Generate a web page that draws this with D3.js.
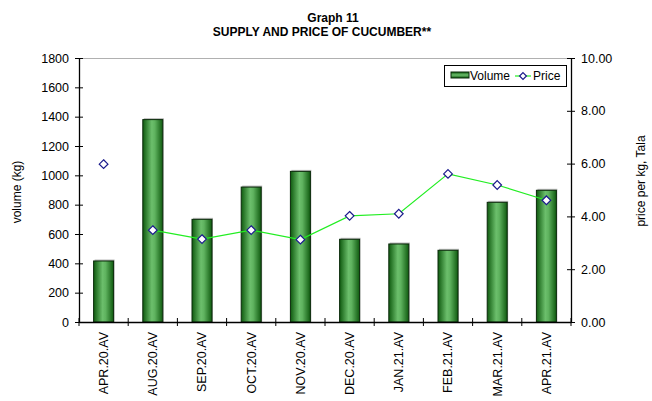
<!DOCTYPE html>
<html><head><meta charset="utf-8">
<script src="https://cdn.jsdelivr.net/npm/d3@7"></script>
<style>body{margin:0;background:#fff;}text{font-family:"Liberation Sans",Arial,sans-serif;}</style>
</head><body><svg id="c" width="652" height="401"></svg>
<script>
const categories = ["APR.20.AV","AUG.20.AV","SEP.20.AV","OCT.20.AV","NOV.20.AV","DEC.20.AV","JAN.21.AV","FEB.21.AV","MAR.21.AV","APR.21.AV"];
const volume = [416, 1380, 700, 920, 1027, 564, 532, 489, 816, 898];
const price = [5.98, 3.48, 3.14, 3.48, 3.12, 4.02, 4.10, 5.61, 5.19, 4.61];
const volumeTicks = [0,200,400,600,800,1000,1200,1400,1600,1800];
const priceTicks = [0,2,4,6,8,10];

const svg = d3.select("#c");
const m = {l:79, r:571, t:58, b:322};
const x = d3.scaleBand().domain(categories).range([m.l, m.r]);
const yL = d3.scaleLinear().domain([0,1800]).range([m.b, m.t]);
const yR = d3.scaleLinear().domain([0,10]).range([m.b, m.t]);

const defs = svg.append("defs");
const g = defs.append("linearGradient").attr("id","bar").attr("x1","0").attr("x2","1").attr("y1","0").attr("y2","0");
g.append("stop").attr("offset","0").attr("stop-color","#0f5a0f");
g.append("stop").attr("offset","0.45").attr("stop-color","#6cbf6c");
g.append("stop").attr("offset","0.6").attr("stop-color","#5fb35f");
g.append("stop").attr("offset","1").attr("stop-color","#0f5a0f");
const lg = defs.append("linearGradient").attr("id","leg").attr("x1","0").attr("x2","0").attr("y1","0").attr("y2","1");
lg.append("stop").attr("offset","0").attr("stop-color","#0f5a0f");
lg.append("stop").attr("offset","0.5").attr("stop-color","#6cbf6c");
lg.append("stop").attr("offset","1").attr("stop-color","#0f5a0f");

// top border
svg.append("line").attr("x1",m.l).attr("x2",m.r).attr("y1",m.t+0.5).attr("y2",m.t+0.5).attr("stroke","#b0b0b0").attr("stroke-width",1);

// title
svg.append("text").attr("x",333).attr("y",22).attr("text-anchor","middle").attr("font-size",12).attr("font-weight","bold").text("Graph 11");
svg.append("text").attr("x",322).attr("y",36).attr("text-anchor","middle").attr("font-size",12).attr("font-weight","bold").text("SUPPLY AND PRICE OF CUCUMBER**");

// bars
const bw = 20;
const bx = (i)=>x(categories[i])+x.bandwidth()/2-bw/2;
svg.selectAll("rect.sh").data(volume).enter().append("rect")
  .attr("x",(d,i)=>bx(i)+1).attr("y",d=>yL(d)-1.5)
  .attr("width",bw).attr("height",d=>m.b-yL(d)+1.5)
  .attr("fill","#bdbdbd");
svg.selectAll("rect.bar").data(volume).enter().append("rect")
  .attr("x",(d,i)=>bx(i))
  .attr("y",d=>yL(d))
  .attr("width",bw).attr("height",d=>m.b-yL(d))
  .attr("fill","url(#bar)").attr("stroke","#0a2a0a").attr("stroke-width",1);

// axes
const axL = svg.append("g").attr("transform",`translate(${m.l},0)`)
  .call(d3.axisLeft(yL).tickValues(volumeTicks).tickSize(4).tickSizeOuter(0).tickFormat(d3.format("d")));
const axR = svg.append("g").attr("transform",`translate(${m.r},0)`)
  .call(d3.axisRight(yR).tickValues(priceTicks).tickSize(4).tickSizeOuter(0).tickFormat(d3.format(".2f")));
const axB = svg.append("g").attr("transform",`translate(0,${m.b})`)
  .call(d3.axisBottom(x).tickSize(0).tickSizeOuter(0));
[axL,axR,axB].forEach(a=>{a.selectAll("path").attr("stroke","#000").attr("stroke-width",1.3);a.selectAll("line").attr("stroke","#000");a.selectAll("text").attr("font-size",12.5).attr("font-family","Liberation Sans, Arial, sans-serif").attr("fill","#000");});
axL.selectAll(".tick line").attr("x1",-4).attr("x2",4);
axR.selectAll(".tick line").attr("x1",-4).attr("x2",4);
axL.selectAll("text").attr("x",-10);
axR.selectAll("text").attr("x",10);
axB.selectAll("text").attr("transform","rotate(-90)").attr("text-anchor","end").attr("dx","-10").attr("dy","0.35em").attr("x",0).attr("y",0);
// category boundary ticks
const bounds = categories.map(c=>x(c)).concat([m.r]);
svg.selectAll("line.ct").data(bounds).enter().append("line")
  .attr("x1",d=>d).attr("x2",d=>d).attr("y1",m.b-4).attr("y2",m.b+4).attr("stroke","#000");

// price line (series joined from second point onward)
const pts = price.map((p,i)=>[x(categories[i])+x.bandwidth()/2, yR(p)]);
svg.append("path").attr("d",d3.line()(pts.slice(1))).attr("fill","none").attr("stroke","#22ee22").attr("stroke-width",1.2);
svg.selectAll("path.mk").data(pts).enter().append("path")
  .attr("d",d3.symbol(d3.symbolDiamond2,48)).attr("transform",d=>`translate(${d[0]},${d[1]})`)
  .attr("fill","#fff").attr("stroke","#1a1a8c").attr("stroke-width",1.2);

// axis titles
svg.append("text").attr("transform","translate(21,192) rotate(-90)").attr("text-anchor","middle").attr("font-size",12).text("volume (kg)");
svg.append("text").attr("transform","translate(645,181) rotate(-90)").attr("text-anchor","middle").attr("font-size",12).text("price per kg, Tala");

// legend
const L = svg.append("g");
L.append("rect").attr("x",444.5).attr("y",65.5).attr("width",122).attr("height",21).attr("fill","#fff").attr("stroke","#000");
L.append("rect").attr("x",451).attr("y",72).attr("width",18).attr("height",6).attr("fill","url(#leg)").attr("stroke","#0a2a0a");
L.append("text").attr("x",470).attr("y",80).attr("font-size",12).text("Volume");
L.append("line").attr("x1",515).attr("x2",531).attr("y1",76).attr("y2",76).attr("stroke","#22ee22").attr("stroke-width",1.2);
L.append("path").attr("d",d3.symbol(d3.symbolDiamond2,30)).attr("transform","translate(523,76)").attr("fill","#fff").attr("stroke","#1a1a8c").attr("stroke-width",1.2);
L.append("text").attr("x",533).attr("y",80).attr("font-size",12).text("Price");
</script></body></html>
